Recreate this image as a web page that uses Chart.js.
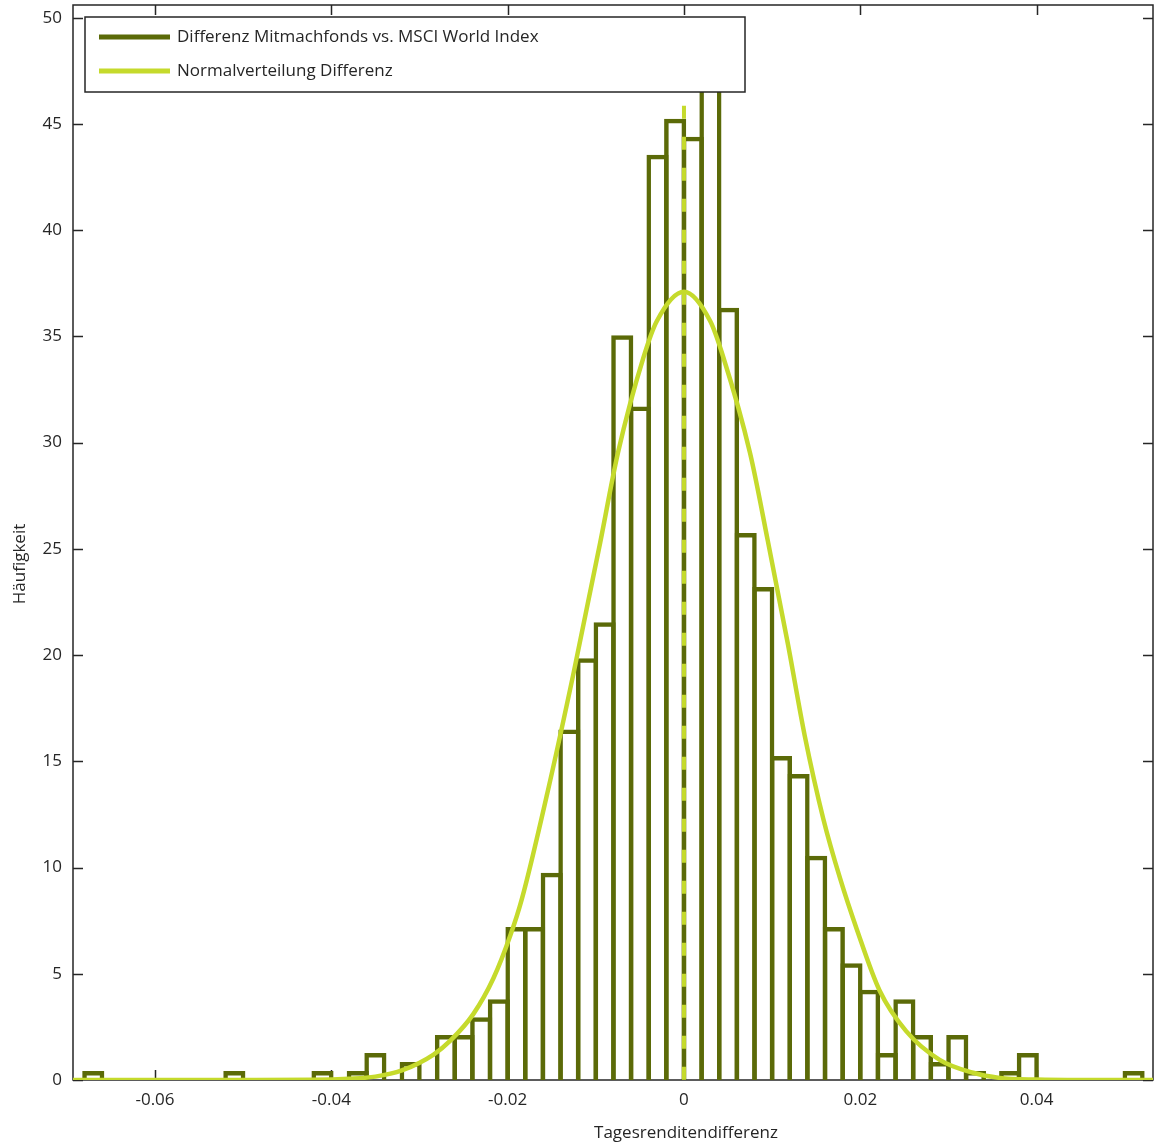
<!DOCTYPE html>
<html>
<head>
<meta charset="utf-8">
<script src="https://cdn.jsdelivr.net/npm/chart.js@4.4.1/dist/chart.umd.min.js"></script>
<style>
  html, body { margin: 0; padding: 0; background: #fff; }
</style>
</head>
<body>
<canvas id="histChart" width="1155" height="1144"></canvas>
<script>
// Histogramm der Tagesrenditendifferenz (Dichte je Klasse, Klassenbreite 0.002)
const binCenters = [
  -0.067, -0.065, -0.063, -0.061, -0.059, -0.057, -0.055, -0.053, -0.051, -0.049,
  -0.047, -0.045, -0.043, -0.041, -0.039, -0.037, -0.035, -0.033, -0.031, -0.029,
  -0.027, -0.025, -0.023, -0.021, -0.019, -0.017, -0.015, -0.013, -0.011, -0.009,
  -0.007, -0.005, -0.003, -0.001, 0.001, 0.003, 0.005, 0.007, 0.009, 0.011,
  0.013, 0.015, 0.017, 0.019, 0.021, 0.023, 0.025, 0.027, 0.029, 0.031,
  0.033, 0.035, 0.037, 0.039, 0.041, 0.043, 0.045, 0.047, 0.049, 0.051
];
const binHeights = [
  0.42, 0, 0, 0, 0, 0, 0, 0, 0.42, 0,
  0, 0, 0, 0.42, 0, 0.42, 1.27, 0, 0.85, 0,
  2.12, 2.12, 2.95, 3.8, 7.2, 7.2, 9.75, 16.5, 19.85, 21.55,
  35.05, 31.7, 43.55, 45.25, 44.4, 48.4, 36.35, 25.75, 23.2, 15.25,
  14.4, 10.55, 7.2, 5.5, 4.25, 1.27, 3.8, 2.12, 0.85, 2.12,
  0.42, 0, 0.42, 1.27, 0, 0, 0, 0, 0, 0.42
];

// Normalverteilung, Punkte
const curveX = [-0.0693, -0.05, -0.042, -0.038, -0.035, -0.032, -0.0284, -0.0265, -0.0239, -0.0216,
  -0.0197, -0.0184, -0.0155, -0.0125, -0.0095, -0.0075, -0.0046, -0.0031, 0, 0.003,
  0.0044, 0.0075, 0.0095, 0.0118, 0.0137, 0.0158, 0.0177, 0.0196, 0.0222, 0.0252,
  0.029, 0.0328, 0.0358, 0.04, 0.045, 0.0532];
const curveY = [0, 0, 0.01, 0.06, 0.16, 0.45, 1.2, 1.85, 3.1, 4.8,
  6.8, 8.5, 13.5, 19.2, 25.3, 29.5, 34.0, 35.7, 37.1, 35.7,
  34.1, 29.5, 25.4, 20.5, 16.2, 12.3, 9.5, 7.1, 4.2, 2.3,
  0.95, 0.34, 0.1, 0.02, 0, 0];

// Mittelwert-Linie bei 0
const meanLineX = [0, 0];
const meanLineY = [45.86, 0];

const xTicks = [-0.06, -0.04, -0.02, 0, 0.02, 0.04];
const xTickLabels = ['-0.06', '-0.04', '-0.02', '0', '0.02', '0.04'];
const yTicks = [0, 5, 10, 15, 20, 25, 30, 35, 40, 45, 50];
const yTickLabels = ['0', '5', '10', '15', '20', '25', '30', '35', '40', '45', '50'];

const seriesLabels = ['Differenz Mitmachfonds vs. MSCI World Index', 'Normalverteilung Differenz'];
const xTitle = 'Tagesrenditendifferenz';
const yTitle = 'Häufigkeit';

const DARK = '#5b6a08';
const LIME = '#c5da2c';
const INK = '#262626';
const FONT = '"Open Sans", "Noto Sans", sans-serif';

// Rahmen, innenliegende Ticks, Achsentitel und Legende (MATLAB-Stil)
const matlabFrame = {
  id: 'matlabFrame',
  beforeDatasetsDraw(chart) {
    const { ctx, chartArea: a, scales } = chart;
    ctx.save();
    ctx.strokeStyle = INK;
    ctx.lineWidth = 1.5;
    ctx.strokeRect(a.left, a.top, a.right - a.left, a.bottom - a.top);
    ctx.beginPath();
    xTicks.forEach(v => {
      const px = Math.round(scales.x.getPixelForValue(v)) + 0.5;
      ctx.moveTo(px, a.bottom); ctx.lineTo(px, a.bottom - 10);
      ctx.moveTo(px, a.top); ctx.lineTo(px, a.top + 10);
    });
    yTicks.forEach(v => {
      const py = Math.round(scales.y.getPixelForValue(v)) + 0.5;
      ctx.moveTo(a.left, py); ctx.lineTo(a.left + 10, py);
      ctx.moveTo(a.right, py); ctx.lineTo(a.right - 10, py);
    });
    ctx.stroke();
    ctx.restore();
  },
  afterDraw(chart) {
    const { ctx } = chart;
    ctx.save();
    // Achsentitel
    ctx.fillStyle = INK;
    ctx.font = '17px ' + FONT;
    ctx.textAlign = 'center';
    ctx.textBaseline = 'middle';
    ctx.fillText(xTitle, 686, 1133);
    ctx.translate(20, 564);
    ctx.rotate(-Math.PI / 2);
    ctx.fillText(yTitle, 0, 0);
    ctx.restore();

    // Legende
    ctx.save();
    ctx.fillStyle = '#fff';
    ctx.fillRect(85, 17, 660, 75);
    ctx.strokeStyle = INK;
    ctx.lineWidth = 1.5;
    ctx.strokeRect(85, 17, 660, 75);
    const ds = chart.data.datasets;
    [0, 1].forEach((di, row) => {
      const y = 37 + row * 34;
      ctx.strokeStyle = ds[di].borderColor;
      ctx.lineWidth = 5;
      ctx.beginPath();
      ctx.moveTo(99, y); ctx.lineTo(170, y);
      ctx.stroke();
      ctx.fillStyle = INK;
      ctx.font = '17px ' + FONT;
      ctx.textAlign = 'left';
      ctx.textBaseline = 'middle';
      ctx.fillText(ds[di].label, 177, y);
    });
    ctx.restore();
  }
};

const ctx = document.getElementById('histChart').getContext('2d');
const histChart = new Chart(ctx, {
  type: 'bar',
  data: {
    datasets: [
      {
        label: seriesLabels[0],
        data: binCenters.map((x, i) => ({ x, y: binHeights[i] })),
        backgroundColor: 'rgba(0,0,0,0)',
        borderColor: DARK,
        borderWidth: 4.5,
        categoryPercentage: 1,
        barPercentage: 1.255, // Balken ueberlappen um die Randbreite, damit die Kanten mittig liegen
        order: 3
      },
      {
        type: 'line',
        label: seriesLabels[1],
        data: curveX.map((x, i) => ({ x, y: curveY[i] })),
        borderColor: LIME,
        borderWidth: 4.5,
        pointRadius: 0,
        cubicInterpolationMode: 'monotone',
        fill: false,
        order: 2
      },
      {
        type: 'line',
        label: 'Mittelwert',
        data: meanLineX.map((x, i) => ({ x, y: meanLineY[i] })),
        borderColor: LIME,
        borderWidth: 4,
        borderDash: [13, 18],
        pointRadius: 0,
        fill: false,
        order: 1
      }
    ]
  },
  options: {
    responsive: false,
    animation: false,
    devicePixelRatio: 1,
    layout: { padding: { top: 5, right: 2, left: 0, bottom: 0 } },
    plugins: {
      legend: { display: false },
      tooltip: { enabled: false },
      title: { display: false }
    },
    scales: {
      x: {
        type: 'linear',
        min: -0.0693,
        max: 0.0532,
        offset: false,
        grid: { display: false, drawTicks: false },
        border: { display: false },
        afterBuildTicks: s => { s.ticks = xTicks.map(v => ({ value: v })); },
        afterFit: s => { s.height = 64; s.paddingLeft = 0; s.paddingRight = 0; },
        ticks: {
          padding: 10,
          color: INK,
          font: { family: FONT, size: 17 },
          maxRotation: 0,
          autoSkip: false,
          callback: (v, i) => xTickLabels[i]
        }
      },
      y: {
        min: 0,
        max: 50.6,
        grid: { display: false, drawTicks: false },
        border: { display: false },
        afterBuildTicks: s => { s.ticks = yTicks.map(v => ({ value: v })); },
        afterFit: s => { s.width = 73; s.paddingTop = 0; s.paddingBottom = 0; },
        ticks: {
          padding: 11,
          color: INK,
          font: { family: FONT, size: 17 },
          autoSkip: false,
          callback: (v, i) => yTickLabels[i]
        }
      }
    }
  },
  plugins: [matlabFrame]
});
</script>
</body>
</html>
